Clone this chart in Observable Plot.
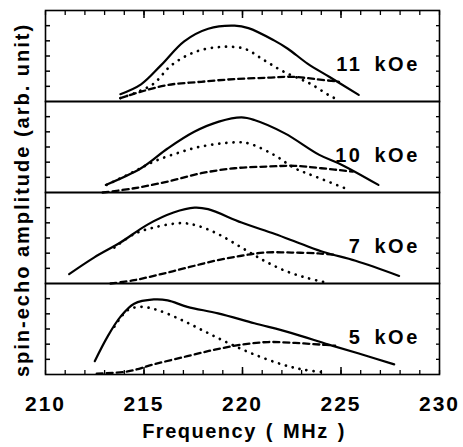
<!DOCTYPE html>
<html>
<head>
<meta charset="utf-8">
<script src="https://cdn.jsdelivr.net/npm/d3@7"></script>
<script src="https://cdn.jsdelivr.net/npm/@observablehq/plot@0.6"></script>
<style>
  html, body { margin: 0; padding: 0; background: #fff; }
  svg { display: block; }
</style>
</head>
<body>
<div id="chart"></div>
<script>
// Panels (top to bottom)
const fields = ["11 kOe", "10 kOe", "7 kOe", "5 kOe"];
const xTickLabels = [210, 215, 220, 225, 230];
const xMinorTicks = d3.range(210, 231, 1);
const xMajorTicks = [215, 220, 225];
const yTicks = [1, 2, 3, 4, 5];

// [frequency MHz, amplitude]
const total11 = [[213.8,0.48],[214.85,1.13],[215.87,2.4],[217.04,3.97],[218.26,4.8],[219.6,5.0],[220.3,4.84],[221.6,4.03],[222.3,3.48],[223.3,2.5],[224.4,1.63],[225.9,0.44]];
const low11   = [[213.8,0.22],[215.4,1.09],[216.4,2.4],[217.6,3.27],[218.9,3.6],[220.1,3.48],[221.1,2.72],[222.1,1.96],[223.4,1.2],[224.5,0.33],[224.9,0.1]];
const high11  = [[213.8,0.22],[214.85,0.65],[216.2,1.09],[217.9,1.3],[219.6,1.48],[221.3,1.57],[222.5,1.63],[223.7,1.48],[224.9,1.3]];

const total10 = [[213.06,0.5],[214.85,1.6],[216.2,2.9],[217.55,4.0],[218.8,4.67],[219.95,4.95],[220.6,4.78],[222.15,3.9],[223.9,2.48],[225.05,1.82],[226.9,0.5]];
const low10   = [[213.1,0.5],[214.5,1.38],[215.5,2.04],[216.7,2.6],[217.9,3.03],[219.6,3.31],[220.3,3.24],[221.6,2.48],[222.65,1.6],[223.7,1.05],[225.4,0.18]];
const high10  = [[212.9,0.0],[214.5,0.28],[216.2,0.72],[217.9,1.27],[219.6,1.6],[221.3,1.71],[222.65,1.76],[224.0,1.6],[225.6,1.38]];

const total7 = [[211.2,0.62],[212.46,1.71],[213.8,2.7],[215.2,3.9],[216.5,4.68],[217.57,5.0],[218.25,4.9],[219.95,4.02],[221.65,3.26],[223.0,2.6],[224.2,2.04],[225.74,1.5],[227.95,0.5]];
const low7   = [[213.5,2.37],[214.5,3.26],[215.5,3.69],[216.9,3.98],[217.74,3.8],[218.76,3.26],[219.95,2.37],[221.1,1.5],[222.16,0.84],[223.18,0.4],[224.2,0.07]];
const high7  = [[213.3,0.0],[214.5,0.22],[215.87,0.62],[217.2,1.05],[218.6,1.5],[219.95,1.83],[221.1,2.04],[222.5,2.04],[223.86,1.98],[224.7,1.89]];

const total5 = [[212.5,0.88],[213.15,2.5],[213.8,3.8],[214.5,4.67],[215.5,4.95],[216.2,4.89],[217.2,4.46],[218.76,4.03],[220.6,3.38],[222.5,2.73],[224.37,1.97],[226.07,1.32],[227.7,0.67]];
const low5   = [[213.5,3.16],[214.17,4.24],[214.85,4.46],[215.7,4.24],[216.9,3.6],[218.08,2.84],[219.27,2.08],[220.6,1.32],[221.99,0.67],[223.0,0.34],[224.2,0.13]];
const high5  = [[212.6,0.06],[214.17,0.2],[215.5,0.67],[217.2,1.21],[218.6,1.64],[219.95,1.97],[221.3,2.14],[222.67,2.08],[224.0,1.97],[224.7,1.9]];

const seriesTable = [
  ["11 kOe", "total", total11], ["11 kOe", "low", low11], ["11 kOe", "high", high11],
  ["10 kOe", "total", total10], ["10 kOe", "low", low10], ["10 kOe", "high", high10],
  ["7 kOe", "total", total7],   ["7 kOe", "low", low7],   ["7 kOe", "high", high7],
  ["5 kOe", "total", total5],   ["5 kOe", "low", low5],   ["5 kOe", "high", high5]
];
const rows = seriesTable.flatMap(([field, part, pts]) =>
  pts.map(([f, a]) => ({field, part, f, a})));
const labels = fields.map(field => ({field}));

const font = "'Liberation Sans', Arial, Helvetica, sans-serif";

const common = {x: "f", y: "a", fy: "field", curve: "catmull-rom"};
const tickOpts = {tickFormat: () => "", label: null, stroke: "#000"};

const chart = Plot.plot({
  width: 463,
  height: 447,
  marginLeft: 45,
  marginRight: 24,
  marginTop: 8,
  marginBottom: 72,
  style: {fontFamily: font, fontWeight: "bold", background: "#fff", color: "#000"},
  x: {domain: [210, 230]},
  y: {domain: [0, 6]},
  fy: {domain: fields, padding: 0, axis: null},
  marks: [
    Plot.frame({stroke: "#000", strokeWidth: 1.6}),
    Plot.line(rows.filter(d => d.part === "total"), {...common, z: "field", stroke: "#000", strokeWidth: 2.2}),
    Plot.line(rows.filter(d => d.part === "low"), {...common, z: "field", stroke: "#000", strokeWidth: 2.7, strokeDasharray: "0.1,7", strokeLinecap: "round"}),
    Plot.line(rows.filter(d => d.part === "high"), {...common, z: "field", stroke: "#000", strokeWidth: 2.3, strokeDasharray: "6,4"}),
    Plot.text(labels, {fy: "field", text: "field", x: 229, y: 2.45, textAnchor: "end", fontSize: 20, fontWeight: "bold", fontFamily: font, fill: "#000"}),
    // inward ticks
    Plot.axisX({anchor: "top", ticks: xMinorTicks, tickSize: -4, strokeWidth: 1.3, ...tickOpts}),
    Plot.axisX({anchor: "top", ticks: xMajorTicks, tickSize: -7, strokeWidth: 1.5, ...tickOpts}),
    Plot.axisX({anchor: "bottom", ticks: xMinorTicks, tickSize: -4, strokeWidth: 1.3, ...tickOpts}),
    Plot.axisX({anchor: "bottom", ticks: xMajorTicks, tickSize: -7, strokeWidth: 1.5, ...tickOpts}),
    Plot.axisY({anchor: "left", ticks: yTicks, tickSize: -5, strokeWidth: 1.5, ...tickOpts}),
    Plot.axisY({anchor: "right", ticks: yTicks, tickSize: -4, strokeWidth: 1.3, ...tickOpts}),
    // tick labels
    Plot.axisX({anchor: "bottom", ticks: xTickLabels, tickSize: 0, tickPadding: 22, fontSize: 21, fontFamily: font, label: null, fill: "#000"})
  ]
});

const svg = d3.select(chart);
svg.selectAll("text").attr("font-weight", "bold");
svg.selectAll("g[aria-label='x-axis tick label'] text").attr("letter-spacing", "2px");
svg.selectAll("g[aria-label='text'] text").attr("letter-spacing", "2.5px").attr("word-spacing", "4px");
svg.append("text")
  .attr("x", 244).attr("y", 438)
  .attr("text-anchor", "middle")
  .attr("font-family", font).attr("font-size", 20).attr("font-weight", "bold")
  .attr("letter-spacing", "1.5px").attr("word-spacing", "2px")
  .attr("fill", "#000")
  .text("Frequency ( MHz )");
svg.append("text")
  .attr("transform", "translate(29,200) rotate(-90)")
  .attr("text-anchor", "middle")
  .attr("font-family", font).attr("font-size", 20).attr("font-weight", "bold")
  .attr("letter-spacing", "2px")
  .attr("fill", "#000")
  .text("spin-echo amplitude (arb. unit)");

document.getElementById("chart").appendChild(chart);
</script>
</body>
</html>
